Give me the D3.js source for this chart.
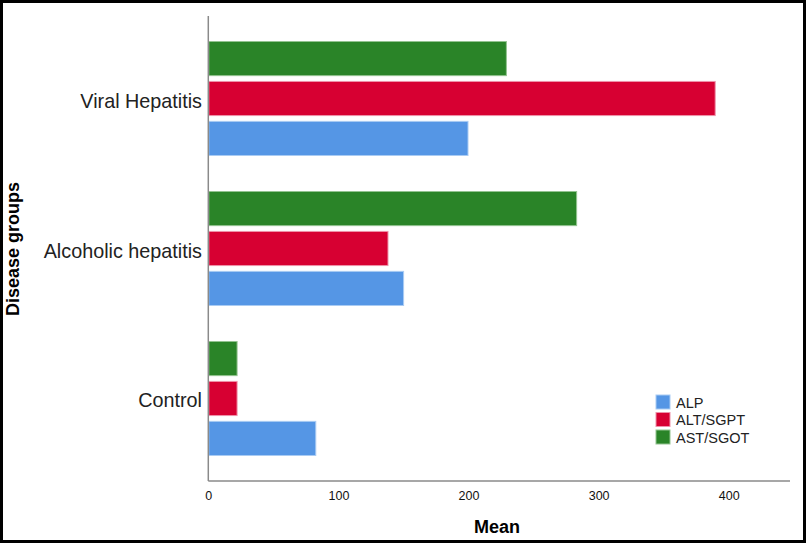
<!DOCTYPE html>
<html>
<head>
<meta charset="utf-8">
<script src="https://cdn.jsdelivr.net/npm/d3@7"></script>
<style>
	body { margin: 0; background: #fff; }
	svg { display: block; font-family: "Liberation Sans", Arial, sans-serif; }
</style>
</head>
<body>
<div id="chart"></div>
<script>
// カテゴリと系列
var groups = ["Viral Hepatitis", "Alcoholic hepatitis", "Control"];
var series = ["AST/SGOT", "ALT/SGPT", "ALP"];           // 上から下への描画順
var legendOrder = ["ALP", "ALT/SGPT", "AST/SGOT"];
var astValues = [229.5, 283.5, 22.5];
var altValues = [390, 138.5, 22.5];
var alpValues = [200, 150.5, 83];
var xTicks = [0, 100, 200, 300, 400];
var colors = { "ALP": "#5596e5", "ALT/SGPT": "#d70032", "AST/SGOT": "#2a8428" };
var strokes = { "ALP": "#a9cbf3", "ALT/SGPT": "#ee93aa", "AST/SGOT": "#93c390" };

var valuesBySeries = { "AST/SGOT": astValues, "ALT/SGPT": altValues, "ALP": alpValues };

var width = 806, height = 543;
var plotLeft = 208.3, plotTop = 16, plotBottom = 481, plotRight = 790;

var svg = d3.select("#chart").append("svg")
	.attr("width", width)
	.attr("height", height);

// 外枠
svg.append("rect")
	.attr("x", 1.5).attr("y", 1.5)
	.attr("width", width - 3).attr("height", height - 3)
	.style("fill", "none")
	.style("stroke", "#000")
	.style("stroke-width", 3);

var x = d3.scaleLinear().domain([0, 400]).range([plotLeft, plotLeft + 400 * 1.301]);

var y = d3.scaleBand().domain(groups).range([plotTop, plotBottom])
	.paddingInner(0.2333).paddingOuter(0.1667);

var ySub = d3.scaleBand().domain(series).range([0, y.bandwidth()])
	.paddingInner(0.12);

// バー描画
var rows = [];
groups.forEach(function(g, i) {
	series.forEach(function(s) {
		rows.push({ group: g, series: s, value: valuesBySeries[s][i] });
	});
});

svg.selectAll(".bar")
	.data(rows)
	.enter().append("rect")
	.attr("class", "bar")
	.attr("x", x(0) + 0.5)
	.attr("y", function(d) { return y(d.group) + ySub(d.series) + 0.5; })
	.attr("width", function(d) { return x(d.value) - x(0) - 1; })
	.attr("height", ySub.bandwidth() - 1)
	.style("fill", function(d) { return colors[d.series]; })
	.style("stroke", function(d) { return strokes[d.series]; })
	.style("stroke-width", 1);

// 軸線
svg.append("line")
	.attr("x1", plotLeft).attr("y1", plotTop)
	.attr("x2", plotLeft).attr("y2", plotBottom)
	.style("stroke", "#8a8a8a").style("stroke-width", 1.5);
svg.append("line")
	.attr("x1", plotLeft).attr("y1", plotBottom)
	.attr("x2", plotRight).attr("y2", plotBottom)
	.style("stroke", "#8a8a8a").style("stroke-width", 1.5);

// x軸ラベル
var xAxis = d3.axisBottom(x).tickValues(xTicks).tickSize(0).tickPadding(10);
var gx = svg.append("g")
	.attr("transform", "translate(0," + plotBottom + ")")
	.call(xAxis);
gx.select(".domain").remove();
gx.selectAll("text")
	.style("font-family", "'Liberation Sans', Arial, sans-serif")
	.style("font-size", "12.5px")
	.style("fill", "#111");

// カテゴリラベル
svg.selectAll(".glabel")
	.data(groups)
	.enter().append("text")
	.attr("class", "glabel")
	.attr("x", 202)
	.attr("y", function(d) { return y(d) + y.bandwidth() / 2 + 9; })
	.text(function(d) { return d; })
	.style("font-size", "19.8px")
	.style("fill", "#222")
	.style("text-anchor", "end");

// 軸タイトル
svg.append("text")
	.attr("x", 497).attr("y", 533)
	.text("Mean")
	.style("font-size", "18px")
	.style("font-weight", "bold")
	.style("fill", "#000")
	.style("text-anchor", "middle");

svg.append("text")
	.attr("transform", "translate(19,249) rotate(-90)")
	.text("Disease groups")
	.style("font-size", "18px")
	.style("font-weight", "bold")
	.style("fill", "#000")
	.style("text-anchor", "middle");

// 凡例
var legend = svg.selectAll(".legend")
	.data(legendOrder)
	.enter().append("g")
	.attr("class", "legend")
	.attr("transform", function(d, i) { return "translate(656," + (395 + i * 17.5) + ")"; });

legend.append("rect")
	.attr("width", 14).attr("height", 14)
	.style("fill", function(d) { return colors[d]; })
	.style("stroke", function(d) { return strokes[d]; })
	.style("stroke-width", 1);

legend.append("text")
	.attr("x", 20).attr("y", 12.5)
	.text(function(d) { return d; })
	.style("font-size", "14.5px")
	.style("fill", "#222");
</script>
</body>
</html>
